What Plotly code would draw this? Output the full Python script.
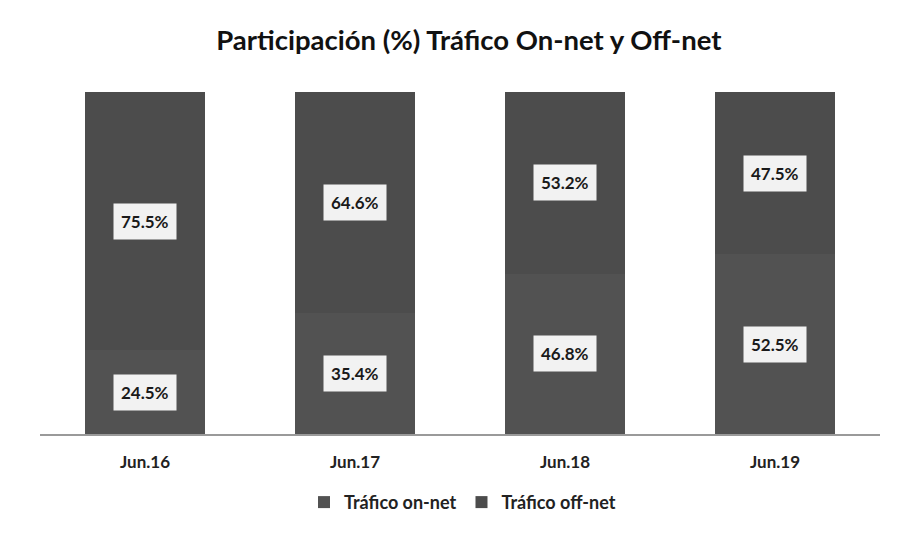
import plotly.graph_objects as go

categories = ["Jun.16", "Jun.17", "Jun.18", "Jun.19"]
on_net = [24.5, 35.4, 46.8, 52.5]
off_net = [75.5, 64.6, 53.2, 47.5]
series_names = ["Tráfico on-net", "Tráfico off-net"]

FONT = "Lato"
fig = go.Figure()
fig.add_trace(go.Bar(x=categories, y=on_net, name=f"<b>{series_names[0]}</b>",
                     marker=dict(color="#525252", line=dict(width=0))))
fig.add_trace(go.Bar(x=categories, y=off_net, name=f"<b>{series_names[1]}</b>",
                     marker=dict(color="#4c4c4c", line=dict(width=0))))

annotations = []
for c, a, b in zip(categories, on_net, off_net):
    for val, mid in ((a, a / 2), (b, a + b / 2)):
        annotations.append(dict(
            x=c, y=mid, xref="x", yref="y", text=f"<b>{val:.1f}%</b>",
            showarrow=False, bgcolor="#f2f2f2", borderpad=7,
            font=dict(family=FONT, size=17, color="#1a1a1a")))

fig.update_layout(
    width=893, height=526,
    barmode="stack", bargap=0.43,
    paper_bgcolor="white", plot_bgcolor="white",
    margin=dict(l=32, r=21, t=84, b=100),
    title=dict(text="<b>Participación (%) Tráfico On-net y Off-net</b>",
               x=0.516, xanchor="center", y=0.939, yanchor="middle",
               font=dict(family=FONT, size=27.5, color="#111111")),
    xaxis=dict(showline=True, linecolor="#9a9a9a", linewidth=1.5,
               tickfont=dict(family=FONT, size=17, color="#222222"),
               ticks="", ticklabelstandoff=12, tickmode="array", tickvals=categories,
               ticktext=[f"<b>{c}</b>" for c in categories]),
    yaxis=dict(range=[0, 100], visible=False, showgrid=False),
    legend=dict(orientation="h", x=0.503, xanchor="center", y=-0.2, yanchor="middle",
                traceorder="normal", itemwidth=30,
                font=dict(family=FONT, size=18, color="#222222")),
    annotations=annotations,
    showlegend=True,
)

fig.write_html("out.html")
